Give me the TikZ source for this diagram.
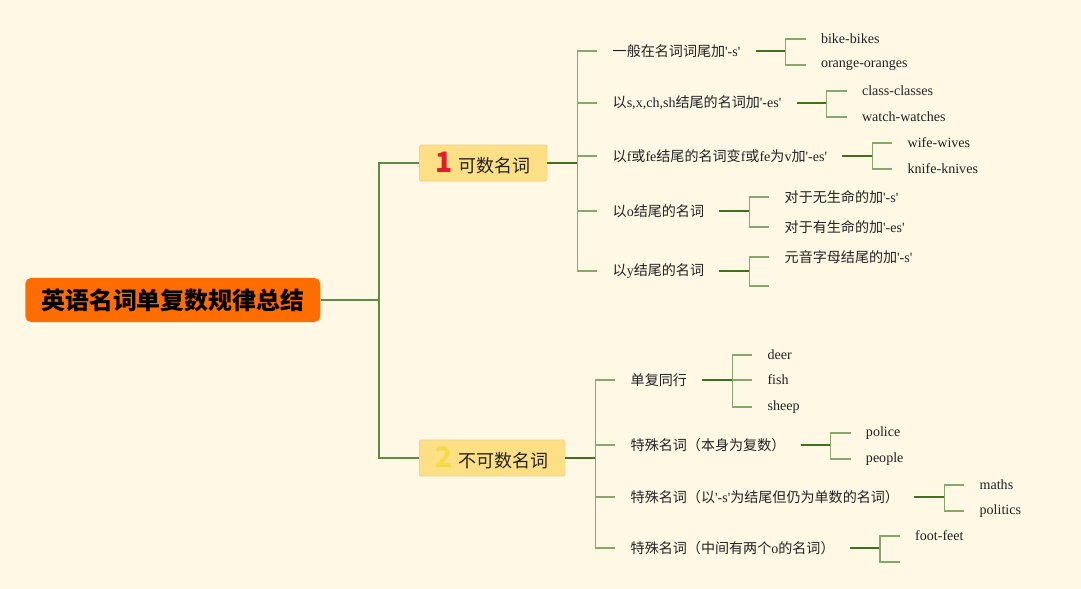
\documentclass[tikz,border=0pt]{standalone}
\usepackage{fontspec}
\setmainfont{Noto Sans CJK SC}
\newfontfamily\lat{Liberation Serif}
\usetikzlibrary{positioning}

\definecolor{bgcream}{HTML}{FEF8E5}
\definecolor{rootorange}{HTML}{FF6D00}
\definecolor{catyellow}{HTML}{FDDF86}
\definecolor{catborder}{HTML}{F0D38C}
\definecolor{numred}{HTML}{E31B2B}
\definecolor{numyellow}{HTML}{F4DA48}
\definecolor{trunkgreen}{HTML}{5E8A45}
\definecolor{darkbranch}{HTML}{41701F}
\definecolor{lightbranch}{HTML}{86A86A}
\definecolor{inktext}{HTML}{222222}

\begin{document}
\begin{tikzpicture}[x=0.025cm, y=-0.025cm,
    rootbox/.style={fill=rootorange, rounded corners=4pt, inner xsep=0.4cm,
      minimum height=1.1cm, font=\fontsize{17}{17}\selectfont\bfseries},
    catbox/.style={fill=catyellow, draw=catborder, line width=0.6pt,
      rounded corners=1pt, inner xsep=0.41cm, minimum height=0.9cm,
      text=inktext, font=\fontsize{12.8}{13}\selectfont},
    subtopic/.style={inner xsep=0.375cm, inner ysep=2pt, text=inktext,
      font=\fontsize{10}{12}\selectfont},
    leaf/.style={inner xsep=0.375cm, inner ysep=2pt, text=inktext,
      font=\lat\fontsize{10}{12}\selectfont},
    trunk/.style={trunkgreen, line width=1.3pt},
    stem/.style={darkbranch, line width=1.4pt},
    twig/.style={lightbranch, line width=1pt}]

  \useasboundingbox[fill=bgcream] (0,0) rectangle (1081,589);

  % root and the two main branches
  \node[rootbox, anchor=west] (root) at (25,300) {英语名词单复数规律总结};
  \coordinate (rootfork) at (379,300);
  \node[catbox, anchor=west] (count) at (419,163)
    {\textcolor{numred}{\fontsize{20}{20}\selectfont\bfseries 1}\hspace{4pt}可数名词};
  \node[catbox, anchor=west] (uncount) at (419,458)
    {\textcolor{numyellow}{\fontsize{20}{20}\selectfont\bfseries 2}\hspace{4pt}不可数名词};

  % countable nouns
  \node[subtopic, right=1.25cm of count, yshift=2.8cm] (s1) {一般在名词词尾加{\lat '-s'}};
  \node[subtopic, right=1.25cm of count, yshift=1.5cm] (s2) {以{\lat s,x,ch,sh}结尾的名词加{\lat '-es'}};
  \node[subtopic, right=1.25cm of count, yshift=0.175cm] (s3) {以{\lat f}或{\lat fe}结尾的名词变{\lat f}或{\lat fe}为{\lat v}加{\lat '-es'}};
  \node[subtopic, right=1.25cm of count, yshift=-1.2cm] (s4) {以{\lat o}结尾的名词};
  \node[subtopic, right=1.25cm of count, yshift=-2.7cm] (s5) {以{\lat y}结尾的名词};

  \node[leaf, right=1.25cm of s1, yshift=0.3cm] (s1a) {bike-bikes};
  \node[leaf, right=1.25cm of s1, yshift=-0.35cm] (s1b) {orange-oranges};
  \node[leaf, right=1.25cm of s2, yshift=0.3cm] (s2a) {class-classes};
  \node[leaf, right=1.25cm of s2, yshift=-0.35cm] (s2b) {watch-watches};
  \node[leaf, right=1.25cm of s3, yshift=0.325cm] (s3a) {wife-wives};
  \node[leaf, right=1.25cm of s3, yshift=-0.325cm] (s3b) {knife-knives};
  \node[subtopic, right=1.25cm of s4, yshift=0.35cm] (s4a) {对于无生命的加{\lat '-s'}};
  \node[subtopic, right=1.25cm of s4, yshift=-0.4cm] (s4b) {对于有生命的加{\lat '-es'}};
  \node[subtopic, right=1.25cm of s5, yshift=0.35cm] (s5a) {元音字母结尾的加{\lat '-s'}};
  \coordinate[right=1.25cm of s5, yshift=-0.375cm] (s5b);

  % uncountable nouns
  \node[subtopic, right=1.25cm of uncount, yshift=1.95cm] (t1) {单复同行};
  \node[subtopic, right=1.25cm of uncount, yshift=0.325cm] (t2) {特殊名词（本身为复数）};
  \node[subtopic, right=1.25cm of uncount, yshift=-0.975cm] (t3) {特殊名词（以{\lat '-s'}为结尾但仍为单数的名词）};
  \node[subtopic, right=1.25cm of uncount, yshift=-2.25cm] (t4) {特殊名词（中间有两个{\lat o}的名词）};

  \node[leaf, right=1.25cm of t1, yshift=0.625cm] (t1a) {deer};
  \node[leaf, right=1.25cm of t1] (t1b) {fish};
  \node[leaf, right=1.25cm of t1, yshift=-0.675cm] (t1c) {sheep};
  \node[leaf, right=1.25cm of t2, yshift=0.3cm] (t2a) {police};
  \node[leaf, right=1.25cm of t2, yshift=-0.35cm] (t2b) {people};
  \node[leaf, right=1.25cm of t3, yshift=0.3cm] (t3a) {maths};
  \node[leaf, right=1.25cm of t3, yshift=-0.35cm] (t3b) {politics};
  \node[leaf, right=1.25cm of t4, yshift=0.3cm] (t4a) {foot-feet};
  \coordinate[right=1.25cm of t4, yshift=-0.35cm] (t4b);

  % connectors
  \draw[trunk] (root.east) -- (rootfork);
  \draw[trunk] (count.west) -| (rootfork) |- (uncount.west);

  \draw[stem] (count.east) -- ++(0.75cm,0) coordinate (countfork);
  \draw[twig] (s1.west) -| (countfork) |- (s5.west);
  \foreach \s in {s2,s3,s4}
    \draw[twig] (countfork |- \s.west) -- (\s.west);

  \draw[stem] (uncount.east) -- ++(0.75cm,0) coordinate (uncountfork);
  \draw[twig] (t1.west) -| (uncountfork) |- (t4.west);
  \foreach \s in {t2,t3}
    \draw[twig] (uncountfork |- \s.west) -- (\s.west);

  \foreach \p/\a/\b in {s1/s1a/s1b, s2/s2a/s2b, s3/s3a/s3b, s4/s4a/s4b, t2/t2a/t2b, t3/t3a/t3b}{
    \draw[stem] (\p.east) -- ++(0.75cm,0) coordinate (fk);
    \draw[twig] (\a.west) -| (fk) |- (\b.west);
  }

  \draw[stem] (s5.east) -- ++(0.75cm,0) coordinate (s5fork);
  \draw[twig] (s5a.west) -| (s5fork) |- (s5b);
  \draw[stem] (t4.east) -- ++(0.75cm,0) coordinate (t4fork);
  \draw[twig] (t4a.west) -| (t4fork) |- (t4b);

  \draw[stem] (t1.east) -- ++(0.75cm,0) coordinate (t1fork);
  \draw[twig] (t1a.west) -| (t1fork) |- (t1c.west);
  \draw[twig] (t1fork) -- (t1b.west);

\end{tikzpicture}
\end{document}
